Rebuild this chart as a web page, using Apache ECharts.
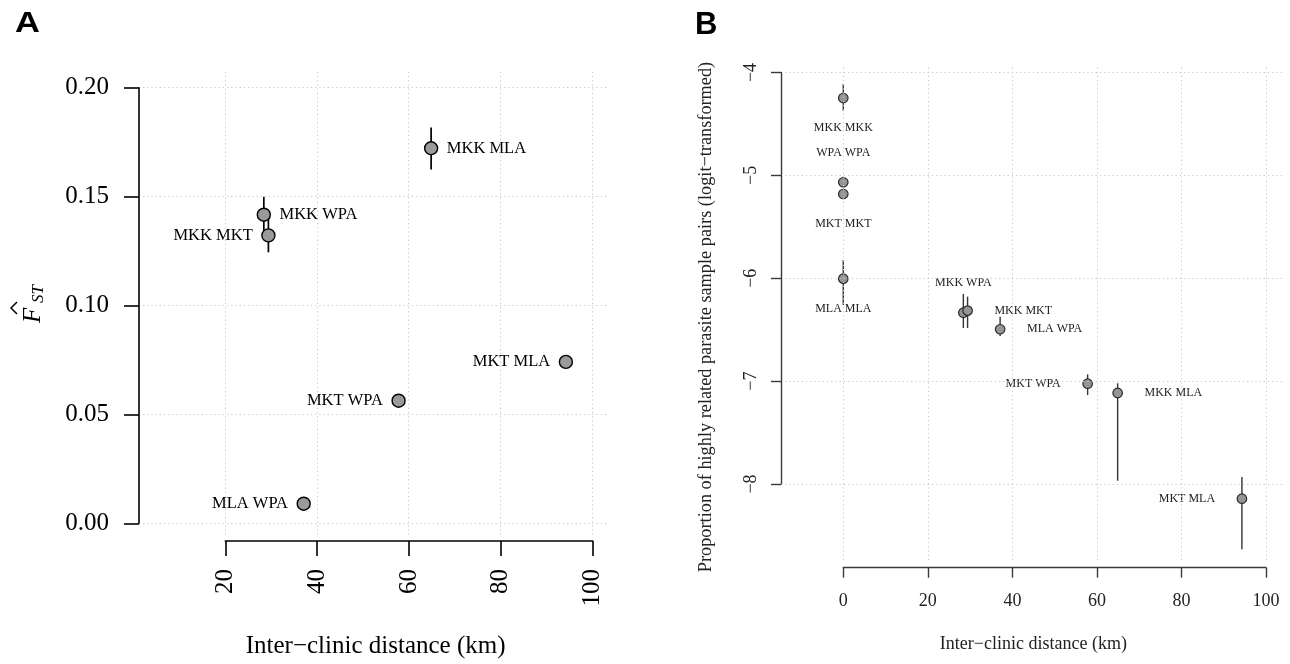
<!DOCTYPE html>
<html>
<head>
<meta charset="utf-8">
<title>Genetic differentiation and relatedness vs inter-clinic distance</title>
<script src="https://cdn.jsdelivr.net/npm/echarts@6/dist/echarts.min.js"></script>
<style>
  html, body { margin: 0; padding: 0; background: #fff; }
  #chart { width: 1290px; height: 664px; }
</style>
</head>
<body>
<div id="chart"></div>
<script>
// ---- Panel A: pairwise F_ST between clinics ----
const pairsA = ['MKK MLA', 'MKK WPA', 'MKK MKT', 'MKT MLA', 'MKT WPA', 'MLA WPA'];
const distA  = [64.9, 28.4, 29.4, 94.3, 57.8, 37.1];
const fstA   = [0.1722, 0.1417, 0.1322, 0.0741, 0.0563, 0.0090];
const fstLoA = [0.1624, 0.1337, 0.1244, 0.0728, 0.0552, 0.0080];
const fstHiA = [0.1817, 0.1499, 0.1402, 0.0754, 0.0574, 0.0100];
const xTicksA = [20, 40, 60, 80, 100];
const yTicksA = [0, 0.05, 0.10, 0.15, 0.20];

// ---- Panel B: logit proportion of highly related sample pairs ----
const pairsB = ['MKK MKK', 'WPA WPA', 'MKT MKT', 'MLA MLA', 'MKK WPA', 'MKK MKT', 'MLA WPA', 'MKT WPA', 'MKK MLA', 'MKT MLA'];
const distB  = [0, 0, 0, 0, 28.4, 29.4, 37.1, 57.8, 64.9, 94.3];
const relB   = [-4.248, -5.067, -5.181, -6.004, -6.335, -6.315, -6.496, -7.025, -7.115, -8.143];
const relLoB = [-4.371, -5.110, -5.220, -6.260, -6.484, -6.484, -6.561, -7.135, -7.968, -8.635];
const relHiB = [-4.112, -5.013, -5.130, -5.823, -6.153, -6.179, -6.374, -6.934, -7.021, -7.932];
const xTicksB = [0, 20, 40, 60, 80, 100];
const yTicksB = [-8, -7, -6, -5, -4];

// label placement around each point (style only)
const sideA = ['right', 'right', 'left', 'left', 'left', 'left'];
const sideB = ['bottom', 'top', 'bottom', 'bottom', 'top', 'right', 'right', 'left', 'right', 'left'];

const SERIF = '"Liberation Serif", "Times New Roman", Times, serif';
const SANS = '"Liberation Sans", Arial, Helvetica, sans-serif';
const fmtMinus = v => (v < 0 ? '\u2212' + Math.abs(v) : String(v));

function errorBars(xIdx, yIdx, xs, lo, hi, color, width, z) {
  return {
    type: 'custom', xAxisIndex: xIdx, yAxisIndex: yIdx, z: z, silent: true,
    data: xs.map((x, i) => [x, lo[i], hi[i]]),
    encode: { x: 0, y: [1, 2] },
    renderItem: function (params, api) {
      const p1 = api.coord([api.value(0), api.value(1)]);
      const p2 = api.coord([api.value(0), api.value(2)]);
      return { type: 'line', shape: { x1: p1[0], y1: p1[1], x2: p2[0], y2: p2[1] },
               style: { stroke: color, lineWidth: width } };
    }
  };
}

function gridLines(xIdx, yIdx, xt, yt) {
  return {
    type: 'scatter', xAxisIndex: xIdx, yAxisIndex: yIdx, data: [], z: 1, silent: true,
    markLine: {
      silent: true, symbol: 'none', label: { show: false },
      lineStyle: { type: [1.2, 3], color: '#c8c8c8', width: 1 },
      emphasis: { disabled: true },
      data: xt.map(v => ({ xAxis: v })).concat(yt.map(v => ({ yAxis: v })))
    }
  };
}

function points(xIdx, yIdx, xs, ys, names, sides, opt) {
  return {
    type: 'scatter', xAxisIndex: xIdx, yAxisIndex: yIdx, z: 3, silent: true,
    symbol: 'circle', symbolSize: opt.size,
    itemStyle: { color: opt.fill, borderColor: opt.stroke, borderWidth: opt.bw, opacity: 1 },
    label: { show: true, formatter: '{b}', fontFamily: SERIF, fontSize: opt.font,
             color: opt.text, distance: opt.dist },
    data: xs.map((x, i) => ({
      name: names[i], value: [x, ys[i]],
      label: { position: sides[i], distance: (sides[i] === 'top' || sides[i] === 'bottom') ? opt.distV : opt.dist }
    }))
  };
}

const axisStyleA = { color: '#000', width: 1.6 };
const axisStyleB = { color: '#3a3a3a', width: 1.4 };

const option = {
  animation: false,
  backgroundColor: '#fff',
  grid: [
    { left: 143, top: 71.7, width: 465, height: 463.3 },   // A plot region
    { left: 139, top: 87.7, width: 10, height: 435.6 },    // A y axis
    { left: 225.3, top: 540, width: 367.4, height: 1 },    // A x axis
    { left: 785, top: 66, width: 500, height: 494 },       // B plot region
    { left: 781, top: 72.5, width: 10, height: 411.5 },    // B y axis
    { left: 843.3, top: 566.7, width: 422.7, height: 1 }   // B x axis
  ],
  xAxis: [
    { gridIndex: 0, type: 'value', min: 2.04, max: 103.49, show: false },
    { gridIndex: 1, type: 'value', min: 0, max: 1, show: false },
    { gridIndex: 2, type: 'value', min: xTicksA[0], max: xTicksA[xTicksA.length - 1], interval: 20,
      position: 'bottom',
      axisLine: { show: true, onZero: false, lineStyle: axisStyleA },
      axisTick: { show: true, length: 15, lineStyle: axisStyleA },
      axisLabel: { rotate: 90, margin: 28, fontSize: 25, fontFamily: SERIF, color: '#000' },
      splitLine: { show: false } },
    { gridIndex: 3, type: 'value', min: -13.79, max: 104.49, show: false },
    { gridIndex: 4, type: 'value', min: 0, max: 1, show: false },
    { gridIndex: 5, type: 'value', min: xTicksB[0], max: xTicksB[xTicksB.length - 1], interval: 20,
      position: 'bottom',
      axisLine: { show: true, onZero: false, lineStyle: axisStyleB },
      axisTick: { show: true, length: 10, lineStyle: axisStyleB },
      axisLabel: { margin: 25, fontSize: 18, fontFamily: SERIF, color: '#222' },
      splitLine: { show: false } }
  ],
  yAxis: [
    { gridIndex: 0, type: 'value', min: -0.00537, max: 0.20735, show: false },
    { gridIndex: 1, type: 'value', min: yTicksA[0], max: yTicksA[yTicksA.length - 1], interval: 0.05,
      position: 'left',
      axisLine: { show: true, onZero: false, lineStyle: axisStyleA },
      axisTick: { show: true, length: 15, lineStyle: axisStyleA },
      axisLabel: { margin: 30, fontSize: 25, fontFamily: SERIF, color: '#000',
                   formatter: v => v.toFixed(2) },
      splitLine: { show: false } },
    { gridIndex: 2, type: 'value', min: 0, max: 1, show: false },
    { gridIndex: 3, type: 'value', min: -8.7388, max: -3.9368, show: false },
    { gridIndex: 4, type: 'value', min: yTicksB[0], max: yTicksB[yTicksB.length - 1], interval: 1,
      position: 'left',
      axisLine: { show: true, onZero: false, lineStyle: axisStyleB },
      axisTick: { show: true, length: 10, lineStyle: axisStyleB },
      axisLabel: { rotate: 90, margin: 21, fontSize: 18, fontFamily: SERIF, color: '#222',
                   formatter: fmtMinus },
      splitLine: { show: false } },
    { gridIndex: 5, type: 'value', min: 0, max: 1, show: false }
  ],
  series: [
    gridLines(0, 0, xTicksA, yTicksA),
    errorBars(0, 0, distA, fstLoA, fstHiA, '#000', 1.7, 2),
    points(0, 0, distA, fstA, pairsA, sideA,
           { size: 13, fill: '#9a9a9a', stroke: '#000', bw: 1.4, font: 16.5, text: '#000', dist: 8.5, distV: 9 }),
    gridLines(3, 3, xTicksB, yTicksB),
    errorBars(3, 3, distB, relLoB, relHiB, '#333', 1.4, 2),
    points(3, 3, distB, relB, pairsB, sideB,
           { size: 9.5, fill: '#959595', stroke: '#2a2a2a', bw: 1.2, font: 12, text: '#222', dist: 21.5, distV: 18.5 })
  ],
  graphic: [
    { type: 'text', x: 15, y: 9, scaleX: 1.15, style: { text: 'A', font: 'bold 30px ' + SANS, fill: '#000', align: 'left', verticalAlign: 'top' } },
    { type: 'text', x: 695, y: 10, style: { text: 'B', font: 'bold 31px ' + SANS, fill: '#000', align: 'left', verticalAlign: 'top' } },
    { type: 'text', x: 375.6, y: 646, style: { text: 'Inter\u2212clinic distance (km)', font: '25px ' + SERIF, fill: '#000', align: 'center', verticalAlign: 'middle' } },
    { type: 'text', x: 1033.4, y: 644, style: { text: 'Inter\u2212clinic distance (km)', font: '18px ' + SERIF, fill: '#222', align: 'center', verticalAlign: 'middle' } },
    { type: 'text', x: 706, y: 317, rotation: Math.PI / 2,
      style: { text: 'Proportion of highly related parasite sample pairs (logit\u2212transformed)', font: '18.3px ' + SERIF, fill: '#222', align: 'center', verticalAlign: 'middle' } },
    // F-hat with ST subscript, reading upward
    { type: 'group', x: 41, y: 323, rotation: Math.PI / 2,
      children: [
        { type: 'text', x: 0, y: 5.4, style: { text: 'F', font: 'italic 25px ' + SERIF, fill: '#000', align: 'left', verticalAlign: 'bottom' } },
        { type: 'polyline', shape: { points: [[9, -24], [15, -30], [21, -24]] }, style: { stroke: '#000', lineWidth: 1.5, fill: null } },
        { type: 'text', x: 20, y: 5.7, style: { text: 'ST', font: 'italic 17px ' + SERIF, fill: '#000', align: 'left', verticalAlign: 'bottom' } }
      ] }
  ]
};

const chart = echarts.init(document.getElementById('chart'), null, { renderer: 'canvas' });
chart.setOption(option);
</script>
</body>
</html>
